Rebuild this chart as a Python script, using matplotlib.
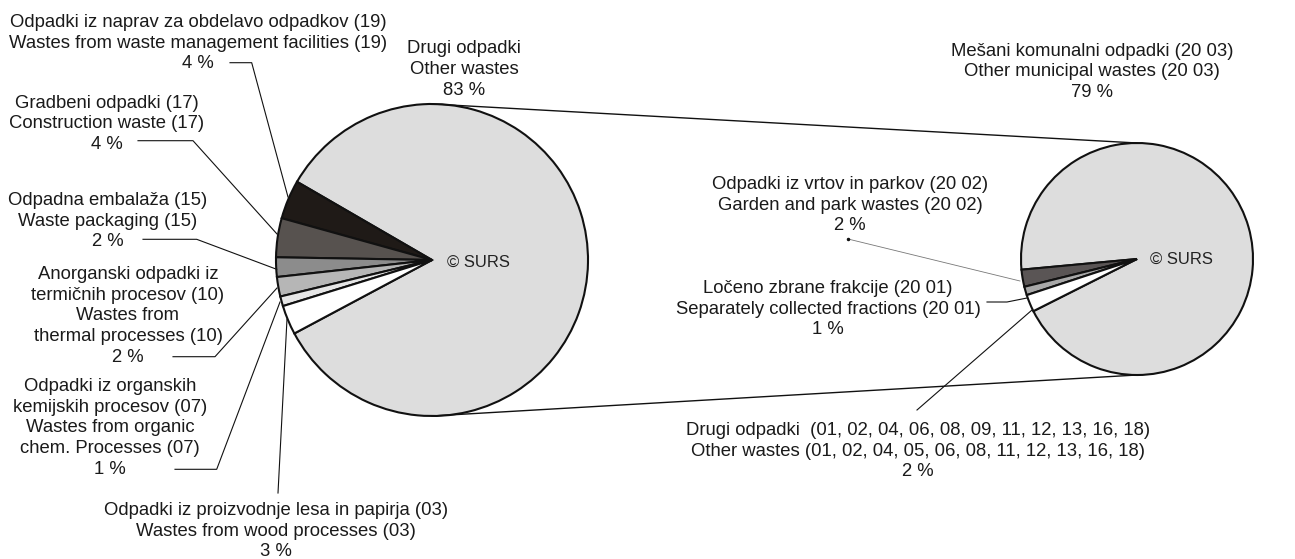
import matplotlib
matplotlib.use("Agg")
import matplotlib.pyplot as plt

plt.rcParams['font.family'] = ['Liberation Sans', 'DejaVu Sans']

# ---- data ----
left_labels = [
    "Drugi odpadki\nOther wastes",
    "Odpadki iz naprav za obdelavo odpadkov (19)\nWastes from waste management facilities (19)",
    "Gradbeni odpadki (17)\nConstruction waste (17)",
    "Odpadna embalaža (15)\nWaste packaging (15)",
    "Anorganski odpadki iz\ntermičnih procesov (10)\nWastes from\nthermal processes (10)",
    "Odpadki iz organskih\nkemijskih procesov (07)\nWastes from organic\nchem. Processes (07)",
    "Odpadki iz proizvodnje lesa in papirja (03)\nWastes from wood processes (03)",
]
left_values = [83, 4, 4, 2, 2, 1, 3]

right_labels = [
    "Mešani komunalni odpadki (20 03)\nOther municipal wastes (20 03)",
    "Odpadki iz vrtov in parkov (20 02)\nGarden and park wastes (20 02)",
    "Ločeno zbrane frakcije (20 01)\nSeparately collected fractions (20 01)",
    "Drugi odpadki  (01, 02, 04, 06, 08, 09, 11, 12, 13, 16, 18)\nOther wastes (01, 02, 04, 05, 06, 08, 11, 12, 13, 16, 18)",
]
right_values = [79, 2, 1, 2]

# ---- styling / layout ----
W, H = 1295, 559
left_colors = ['#dddddd', '#1f1a17', '#57524f', '#8c8c8c', '#b6b6b6', '#e6e6e6', '#ffffff']
right_colors = ['#dddddd', '#5a5555', '#a8a8a8', '#ffffff']

def Y(y):
    return H - y

fig = plt.figure(figsize=(W / 100, H / 100), dpi=100)
ax = fig.add_axes([0, 0, 1, 1])

lc = (432, Y(260)); lr = 156
rc = (1137, Y(259)); rr = 116

def start_for(values, mid):
    t = sum(values)
    return mid - 180 - 180 * values[0] / t

wp = dict(edgecolor='#111111', linewidth=1.5)
ax.pie(left_values, colors=left_colors, center=lc, radius=lr,
       startangle=start_for(left_values, 179), counterclock=True,
       wedgeprops=wp, frame=True)
ax.pie(right_values, colors=right_colors, center=rc, radius=rr,
       startangle=start_for(right_values, 196), counterclock=True,
       wedgeprops=wp, frame=True)

# connecting lines
ax.plot([lc[0], rc[0]], [lc[1] + lr, rc[1] + rr], color='#111111', lw=1.0)
ax.plot([lc[0], rc[0]], [lc[1] - lr, rc[1] - rr], color='#111111', lw=1.0)

ax.text(447, Y(262), "© SURS", fontsize=12, ha='left', va='center', color='#222222')
ax.text(1150, Y(259), "© SURS", fontsize=12, ha='left', va='center', color='#222222')

fs = 13.3
ls = 1.30

def label(x, y, txt, pct):
    ax.text(x, Y(y), f"{txt}\n{pct} %", fontsize=fs, ha='center', va='center',
            multialignment='center', linespacing=ls, color='#1a1a1a')

def leader(pts, color='#111111', lw=0.8):
    ax.plot([p[0] for p in pts], [Y(p[1]) for p in pts], color=color, lw=lw)

# left labels
label(464, 69.5, left_labels[0], left_values[0])
label(198, 43, left_labels[1], left_values[1])
leader([(230, 62.7), (251.7, 62.7), (288, 197)])
label(107, 124, left_labels[2], left_values[2])
leader([(138, 140.7), (193, 140.7), (277, 234)])
label(108, 221, left_labels[3], left_values[3])
leader([(143, 239.3), (196.7, 239.3), (276.7, 269.3)])
label(128, 316, left_labels[4], left_values[4])
leader([(173, 356.7), (215, 356.7), (277, 288)])
label(110, 428, left_labels[5], left_values[5])
leader([(175, 469.3), (216.7, 469.3), (280, 302)])
label(276, 531, left_labels[6], left_values[6])
leader([(287, 319), (278, 493)])

# right labels
label(1092, 72, right_labels[0], right_values[0])
label(850, 205, right_labels[1], right_values[1])
leader([(848, 239), (1020, 281)], color='#777777', lw=0.6)
ax.plot([848], [Y(239)], marker='o', ms=1.5, color='#111111')
label(828, 309, right_labels[2], right_values[2])
leader([(987, 302), (1007, 302), (1027, 298)])
label(918, 451, right_labels[3], right_values[3])
leader([(917, 410), (1032, 310)])

ax.set_xlim(0, W)
ax.set_ylim(0, H)
ax.set_aspect('equal')
ax.axis('off')

fig.savefig("out.png", dpi=100, facecolor='white')
